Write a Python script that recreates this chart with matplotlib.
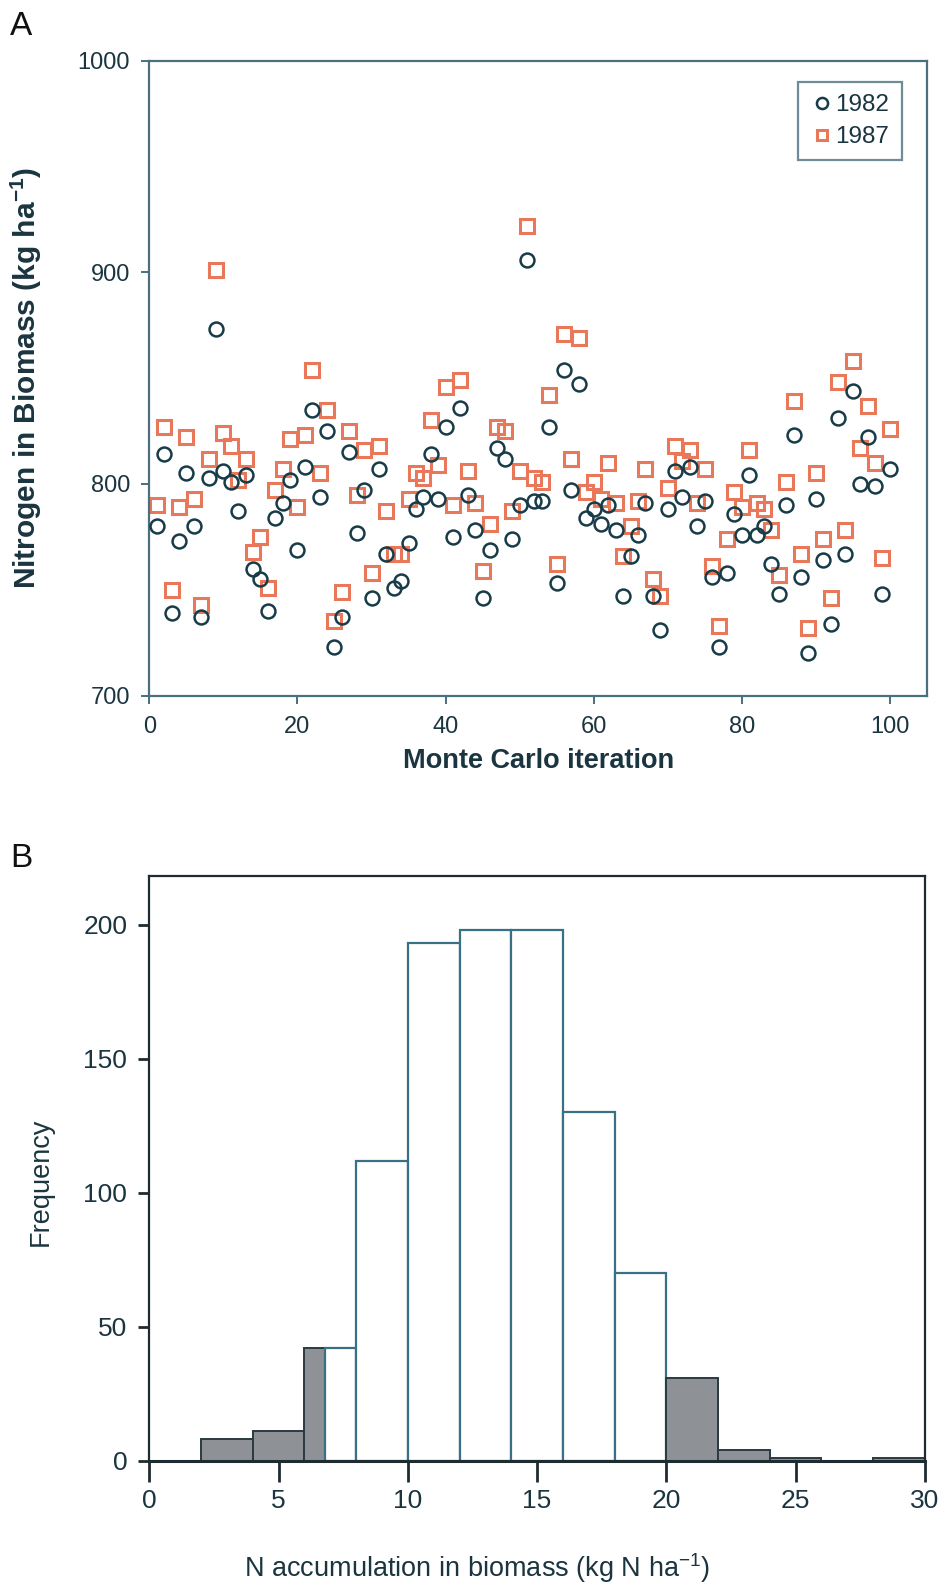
import matplotlib
matplotlib.use("Agg")
import matplotlib.pyplot as plt
import numpy as np

plt.rcParams['font.family'] = ['Liberation Sans', 'DejaVu Sans']

# Panel A: nitrogen in biomass per Monte Carlo iteration
iteration = list(range(1, 101))
n_1982 = [780, 814, 739, 773, 805, 780, 737, 803, 873, 806,
          801, 787, 804, 760, 755, 740, 784, 791, 802, 769,
          808, 835, 794, 825, 723, 737, 815, 777, 797, 746,
          807, 767, 751, 754, 772, 788, 794, 814, 793, 827,
          775, 836, 795, 778, 746, 769, 817, 812, 774, 790,
          906, 792, 792, 827, 753, 854, 797, 847, 784, 788,
          781, 790, 778, 747, 766, 776, 791, 747, 731, 788,
          806, 794, 808, 780, 792, 756, 723, 758, 786, 776,
          804, 776, 780, 762, 748, 790, 823, 756, 720, 793,
          764, 734, 831, 767, 844, 800, 822, 799, 748, 807]
n_1987 = [790, 827, 750, 789, 822, 793, 743, 812, 901, 824,
          818, 802, 812, 768, 775, 751, 797, 807, 821, 789,
          823, 854, 805, 835, 735, 749, 825, 795, 816, 758,
          818, 787, 767, 767, 793, 805, 803, 830, 809, 846,
          790, 849, 806, 791, 759, 781, 827, 825, 787, 806,
          922, 803, 801, 842, 762, 871, 812, 869, 796, 801,
          793, 810, 791, 766, 780, 792, 807, 755, 747, 798,
          818, 811, 816, 791, 807, 761, 733, 774, 796, 789,
          816, 791, 788, 778, 757, 801, 839, 767, 732, 805,
          774, 746, 848, 778, 858, 817, 837, 810, 765, 826]

# Panel B: histogram of N accumulation, tails beyond the cutoffs shaded
bin_edges = [2, 4, 6, 8, 10, 12, 14, 16, 18, 20, 22, 24, 26, 28, 30]
counts = [8, 11, 42, 112, 193, 198, 198, 130, 70, 31, 4, 1, 0, 1]
lower_cut = 6.8
upper_cut = 20

dark = '#1b3540'
teal_axis = '#4a6f7e'
salmon = '#e9785a'

fig = plt.figure(figsize=(9.39, 15.83), dpi=100)
ax1 = fig.add_axes([0.1591, 0.5606, 0.8279, 0.4011])
ax2 = fig.add_axes([0.1591, 0.0772, 0.8258, 0.3692])

# --- A ---
ax1.plot(iteration, n_1982, 'o', ms=10, mfc='none', mec='#173c48', mew=1.8,
         label='1982', zorder=3)
ax1.plot(iteration, n_1987, 's', ms=9.5, mfc='none', mec=salmon, mew=2.2,
         label='1987', zorder=2)
ax1.set_xlim(0, 105)
ax1.set_ylim(700, 1000)
ax1.set_xticks([0, 20, 40, 60, 80, 100])
ax1.set_yticks([700, 800, 900, 1000])
for s in ax1.spines.values():
    s.set_color(teal_axis)
    s.set_linewidth(1.6)
ax1.tick_params(direction='out', length=6, width=1.4, color=teal_axis,
                labelsize=17, labelcolor=dark, pad=9)
ax1.tick_params(axis='y', pad=8)
ax1.set_xlabel('Monte Carlo iteration', fontsize=19.5, fontweight='bold', color=dark)
ax1.xaxis.set_label_coords(0.5, -0.083)
ax1.set_ylabel('Nitrogen in Biomass (kg ha$^{\\mathregular{-1}}$)', fontsize=21.5,
               fontweight='bold', color=dark)
ax1.yaxis.set_label_coords(-0.136, 0.5)
leg = ax1.legend(loc='upper right', bbox_to_anchor=(0.9676, 0.966), fontsize=17.5,
                 handletextpad=0.05, handlelength=1.0, borderpad=0.5,
                 labelspacing=0.4, fancybox=False, markerscale=0.8,
                 borderaxespad=0)
leg.get_frame().set_edgecolor(teal_axis)
leg.get_frame().set_linewidth(1.6)
for t in leg.get_texts():
    t.set_color(dark)

# --- B ---
for i, c in enumerate(counts):
    x0, x1 = bin_edges[i], bin_edges[i + 1]
    if c == 0:
        continue
    # shaded tail parts
    if x0 < lower_cut:
        ax2.bar(x0, c, width=min(x1, lower_cut) - x0, align='edge',
                color='#8e9296', edgecolor='#2b3a40', linewidth=1.4, zorder=2)
    if x1 > upper_cut:
        ax2.bar(max(x0, upper_cut), c, width=x1 - max(x0, upper_cut), align='edge',
                color='#8e9296', edgecolor='#2b3a40', linewidth=1.4, zorder=2)
    # unshaded central part
    w0, w1 = max(x0, lower_cut), min(x1, upper_cut)
    if w1 > w0:
        ax2.bar(w0, c, width=w1 - w0, align='edge', color='white',
                edgecolor='#3a7085', linewidth=1.6, zorder=2)

ax2.set_xlim(0, 30)
ax2.set_ylim(0, 218)
ax2.set_xticks([0, 5, 10, 15, 20, 25, 30])
ax2.set_yticks([0, 50, 100, 150, 200])
for s in ax2.spines.values():
    s.set_color('#1e2b31')
    s.set_linewidth(1.6)
ax2.spines['bottom'].set_linewidth(2.2)
ax2.tick_params(axis='x', direction='out', length=15, width=2, color='#1e2b31',
                labelsize=19, labelcolor=dark, pad=5)
ax2.tick_params(axis='y', direction='out', length=8, width=2, color='#1e2b31',
                labelsize=19, labelcolor=dark, pad=8)
ax2.set_xlabel('N accumulation in biomass (kg N ha$^{\\mathregular{-1}}$)',
               fontsize=19.5, color=dark)
ax2.xaxis.set_label_coords(0.423, -0.155)
ax2.set_ylabel('Frequency', fontsize=19.5, color=dark)
ax2.yaxis.set_label_coords(-0.123, 0.477)

fig.text(0.011, 0.993, 'A', fontsize=24, color='#111', va='top')
fig.text(0.011, 0.4675, 'B', fontsize=24, color='#111', va='top')

fig.savefig('out.png', dpi=100, facecolor='white')
